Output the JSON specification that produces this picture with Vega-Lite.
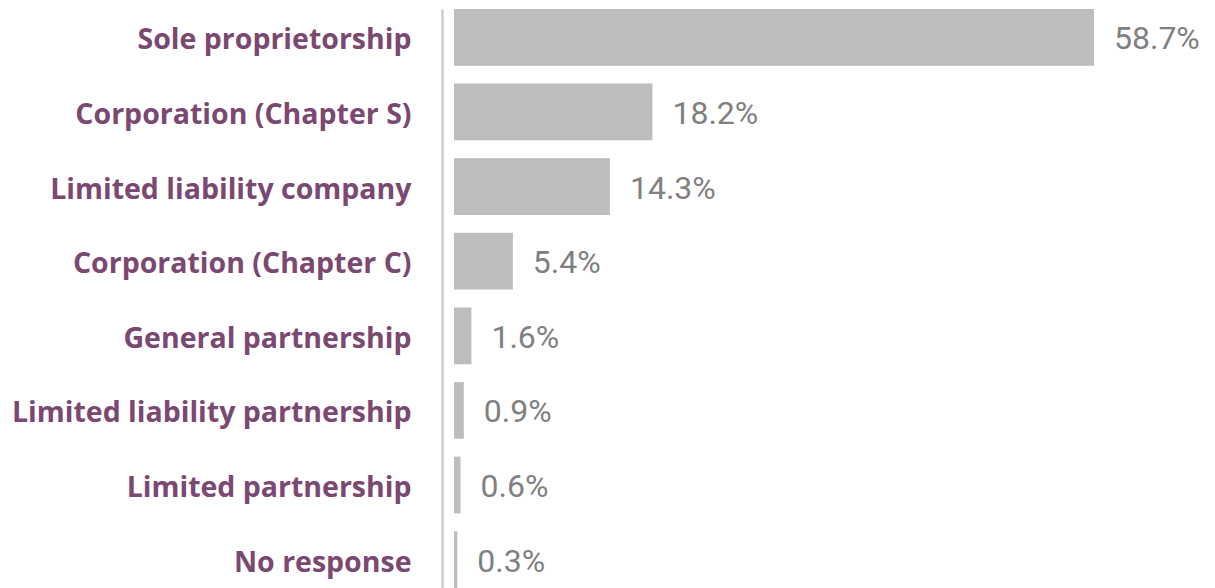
{
  "$schema": "https://vega.github.io/schema/vega-lite/v6.json",
  "width": 761,
  "height": 579,
  "autosize": {"type": "none"},
  "padding": {"left": 454, "top": 9, "right": 0, "bottom": 0},
  "background": "white",
  "config": {"view": {"stroke": null}},
  "data": {
    "values": [
      {"type": "Sole proprietorship", "pct": 58.7, "label": "58.7%"},
      {"type": "Corporation (Chapter S)", "pct": 18.2, "label": "18.2%"},
      {"type": "Limited liability company", "pct": 14.3, "label": "14.3%"},
      {"type": "Corporation (Chapter C)", "pct": 5.4, "label": "5.4%"},
      {"type": "General partnership", "pct": 1.6, "label": "1.6%"},
      {"type": "Limited liability partnership", "pct": 0.9, "label": "0.9%"},
      {"type": "Limited partnership", "pct": 0.6, "label": "0.6%"},
      {"type": "No response", "pct": 0.3, "label": "0.3%"}
    ]
  },
  "encoding": {
    "y": {
      "field": "type",
      "type": "nominal",
      "sort": null,
      "scale": {"paddingInner": 0.24, "paddingOuter": 0},
      "axis": {
        "title": null,
        "ticks": false,
        "offset": 12,
        "domainColor": "#c4c4c4",
        "domainWidth": 2,
        "labelFont": "Open Sans",
        "labelFontWeight": "bold",
        "labelFontSize": 28.5,
        "labelColor": "#7a4870",
        "labelPadding": 31,
        "labelOffset": 3,
        "labelLimit": 500
      }
    },
    "x": {
      "field": "pct",
      "type": "quantitative",
      "scale": {"domain": [0, 69.8], "nice": false},
      "axis": null
    }
  },
  "layer": [
    {"mark": {"type": "bar", "color": "#bdbdbf"}},
    {
      "mark": {
        "type": "text",
        "align": "left",
        "baseline": "middle",
        "dx": 20,
        "dy": 2,
        "font": "Roboto",
        "fontSize": 32,
        "color": "#808080"
      },
      "encoding": {"text": {"field": "label", "type": "nominal"}}
    }
  ]
}
